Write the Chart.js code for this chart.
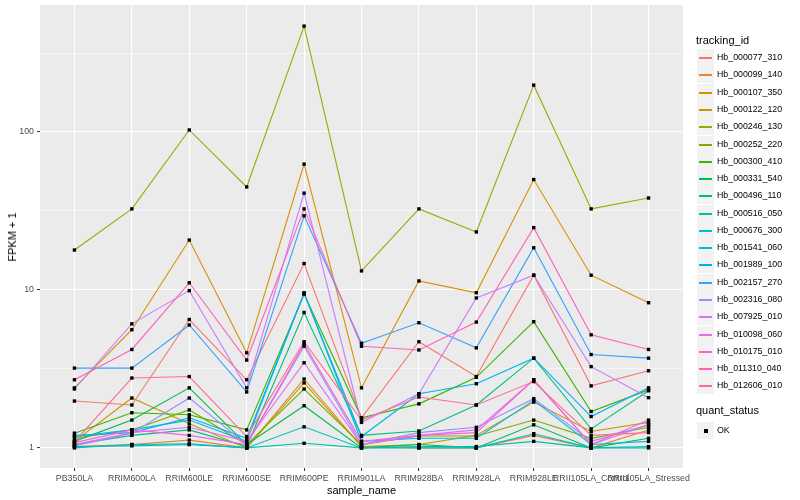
<!DOCTYPE html>
<html>
<head>
<meta charset="utf-8">
<script src="https://cdn.jsdelivr.net/npm/chart.js@4/dist/chart.umd.min.js"></script>
<style>
  html, body { margin: 0; padding: 0; background: #ffffff; }
  #wrap { position: relative; width: 800px; height: 500px; font-family: "Liberation Sans", Arial, Helvetica, sans-serif; }
  #c { position: absolute; left: 0; top: 0; }
  .axt { position: absolute; font-size: 11px; color: #000; white-space: nowrap; }
  #legend { position: absolute; left: 697px; top: 0; font-size: 8.8px; color: #000; }
  .ltitle { position: absolute; font-size: 11px; white-space: nowrap; left: 0; }
  .litem { position: absolute; left: 0; height: 17px; }
  .lkey { position: absolute; left: 0; top: 0; width: 17px; height: 17px; background: #F2F2F2; }
  .lline { position: absolute; left: 2px; top: 8px; width: 13px; height: 2px; }
  .lpt { position: absolute; left: 7px; top: 7px; width: 4px; height: 4px; background: #000; }
  .ltext { position: absolute; left: 20px; top: 3px; white-space: nowrap; }
</style>
</head>
<body>
<div id="wrap">
  <canvas id="c" width="800" height="500"></canvas>
  <div class="axt" id="xtitle" style="left:361.5px; top:484px; transform:translateX(-50%);">sample_name</div>
  <div class="axt" id="ytitle" style="left:12px; top:236.5px; transform:translate(-50%,-50%) rotate(-90deg);">FPKM + 1</div>
  <div id="legend"></div>
</div>
<script>
// ---- data ----
const samples = ["PB350LA", "RRIM600LA", "RRIM600LE", "RRIM600SE", "RRIM600PE", "RRIM901LA",
                 "RRIM928BA", "RRIM928LA", "RRIM928LE", "RRII105LA_Control", "RRII105LA_Stressed"];
const trackingIds = ["Hb_000077_310", "Hb_000099_140", "Hb_000107_350", "Hb_000122_120", "Hb_000246_130",
                     "Hb_000252_220", "Hb_000300_410", "Hb_000331_540", "Hb_000496_110", "Hb_000516_050",
                     "Hb_000676_300", "Hb_001541_060", "Hb_001989_100", "Hb_002157_270", "Hb_002316_080",
                     "Hb_007925_010", "Hb_010098_060", "Hb_010175_010", "Hb_011310_040", "Hb_012606_010"];
const hb_000077_310 = [1.98, 1.87, 6.5, 2.7, 14.7, 1.55, 4.7, 2.83, 12.4, 2.47, 3.08];
const hb_000099_140 = [1.02, 1.05, 1.12, 1.0, 2.73, 1.02, 1.0, 1.0, 1.2, 1.0, 1.3];
const hb_000107_350 = [2.4, 5.6, 20.7, 4.0, 62.6, 2.4, 11.4, 9.6, 50, 12.4, 8.3];
const hb_000122_120 = [1.1, 2.07, 1.42, 1.0, 2.58, 1.02, 1.05, 1.2, 1.95, 1.27, 1.45];
const hb_000246_130 = [17.9, 32.6, 103, 44.9, 468, 13.2, 32.6, 23.3, 198, 32.6, 38.2];
const hb_000252_220 = [1.15, 1.3, 1.74, 1.05, 2.36, 1.05, 1.19, 1.19, 1.5, 1.15, 1.35];
const hb_000300_410 = [1.24, 1.67, 1.62, 1.3, 9.4, 1.55, 1.9, 2.8, 6.3, 1.7, 2.33];
const hb_000331_540 = [1.1, 1.5, 2.4, 1.05, 1.85, 1.0, 1.05, 1.0, 1.4, 1.0, 1.15];
const hb_000496_110 = [1.05, 1.2, 1.3, 1.02, 7.2, 1.2, 1.28, 1.87, 3.7, 1.32, 2.3];
const hb_000516_050 = [1.02, 1.03, 1.05, 1.0, 1.07, 1.0, 1.02, 1.02, 1.1, 1.0, 1.02];
const hb_000676_300 = [1.0, 1.05, 1.06, 1.0, 1.36, 1.0, 1.0, 1.0, 1.23, 1.0, 1.0];
const hb_001541_060 = [1.18, 1.3, 1.5, 1.1, 9.6, 1.1, 1.15, 1.15, 2.0, 1.05, 1.1];
const hb_001989_100 = [1.2, 1.25, 1.55, 1.15, 9.5, 1.18, 2.2, 2.55, 3.7, 1.58, 2.4];
const hb_002157_270 = [3.2, 3.2, 6.0, 2.26, 29.5, 4.6, 6.2, 4.3, 18.5, 3.9, 3.7];
const hb_002316_080 = [1.03, 1.24, 2.07, 1.05, 4.4, 1.05, 1.25, 1.35, 2.05, 1.1, 1.4];
const hb_007925_010 = [2.36, 6.1, 9.9, 2.4, 41, 1.45, 2.2, 8.9, 12.4, 3.27, 2.08];
const hb_010098_060 = [1.05, 1.25, 1.35, 1.1, 3.46, 1.05, 1.2, 1.3, 2.7, 1.05, 1.4];
const hb_010175_010 = [1.08, 1.3, 1.2, 1.05, 4.55, 1.1, 1.2, 1.25, 2.7, 1.05, 1.5];
const hb_011310_040 = [2.7, 4.2, 11.1, 3.6, 32.6, 4.4, 4.17, 6.26, 24.8, 5.2, 4.2];
const hb_012606_010 = [1.09, 2.77, 2.83, 1.18, 4.7, 1.5, 2.1, 1.87, 2.63, 1.2, 1.25];
const yTickValues = [1, 3.1623, 10, 31.623, 100, 316.23];
const yTickLabels = ["1", "", "10", "", "100", ""];
const quantStatus = ["OK"];

// ---- styles ----
const seriesValues = [hb_000077_310, hb_000099_140, hb_000107_350, hb_000122_120, hb_000246_130,
  hb_000252_220, hb_000300_410, hb_000331_540, hb_000496_110, hb_000516_050,
  hb_000676_300, hb_001541_060, hb_001989_100, hb_002157_270, hb_002316_080,
  hb_007925_010, hb_010098_060, hb_010175_010, hb_011310_040, hb_012606_010];
const palette = ["#F8766D", "#EA8331", "#D89000", "#C09B00", "#A3A500", "#7CAE00", "#39B600", "#00BB4E",
  "#00BF7D", "#00C1A3", "#00BFC4", "#00BAE0", "#00B0F6", "#35A2FF", "#9590FF", "#C77CFF",
  "#E76BF3", "#FA62DB", "#FF62BC", "#FF6C91"];

const n = trackingIds.length;
const datasets = trackingIds.map((id, i) => ({
  label: id,
  data: seriesValues[i].map((v, j) => ({ x: j, y: v })),
  borderColor: palette[i],
  borderWidth: 1.1,
  pointRadius: 0,
  fill: false,
  tension: 0,
  order: n - i + 1
}));
const allPoints = [];
seriesValues.forEach(arr => arr.forEach((v, j) => allPoints.push({ x: j, y: v })));
datasets.push({
  label: "points",
  data: allPoints,
  showLine: false,
  pointStyle: "rect",
  pointRadius: 2.4,
  pointBackgroundColor: "#000000",
  pointBorderWidth: 0,
  borderColor: "#000000",
  order: 0
});

const panelBg = {
  id: "panelBg",
  beforeDraw(chart) {
    const { ctx, chartArea: a } = chart;
    ctx.save();
    ctx.fillStyle = "#EBEBEB";
    ctx.fillRect(a.left, a.top, a.right - a.left, a.bottom - a.top);
    ctx.restore();
  }
};

const isMajorY = v => yTickLabels[yTickValues.indexOf(v)] !== "";

new Chart(document.getElementById("c"), {
  type: "line",
  data: { datasets },
  plugins: [panelBg],
  options: {
    responsive: false,
    animation: false,
    events: [],
    layout: { padding: { left: 0, right: 117, top: 5, bottom: 0 } },
    plugins: { legend: { display: false }, tooltip: { enabled: false } },
    scales: {
      x: {
        type: "linear",
        bounds: "data",
        min: -0.6,
        max: 10.6,
        afterBuildTicks(scale) { scale.ticks = samples.map((s, i) => ({ value: i })); },
        afterFit(scale) { scale.height = 32; scale.paddingLeft = 0; scale.paddingRight = 0; },
        border: { display: false },
        grid: { color: "#FFFFFF", lineWidth: 1.1, drawTicks: true, tickLength: 3, tickColor: "#333333", tickWidth: 1 },
        ticks: {
          autoSkip: false, maxRotation: 0, minRotation: 0, padding: 2,
          color: "#4D4D4D",
          font: { family: "'Liberation Sans', Arial, sans-serif", size: 8.8 },
          callback: (v) => samples[v] !== undefined ? samples[v] : ""
        }
      },
      y: {
        type: "logarithmic",
        bounds: "data",
        min: 0.746,
        max: 637,
        afterBuildTicks(scale) { scale.ticks = yTickValues.map(v => ({ value: v })); },
        afterFit(scale) { scale.width = 40; scale.paddingTop = 0; scale.paddingBottom = 0; },
        border: { display: false },
        grid: {
          color: "#FFFFFF",
          lineWidth: ctx => (ctx.tick && isMajorY(ctx.tick.value)) ? 1.1 : 0.55,
          drawTicks: true, tickLength: 3,
          tickColor: ctx => (ctx.tick && isMajorY(ctx.tick.value)) ? "#333333" : "rgba(0,0,0,0)",
          tickWidth: 1
        },
        ticks: {
          padding: 3,
          color: "#4D4D4D",
          font: { family: "'Liberation Sans', Arial, sans-serif", size: 8.8 },
          callback: (v) => { const k = yTickValues.indexOf(v); return k >= 0 ? yTickLabels[k] : ""; }
        }
      }
    }
  }
});

// ---- legend (HTML text) ----
const leg = document.getElementById("legend");
let html = '<div class="ltitle" style="top:34px;left:-1px;">tracking_id</div>';
trackingIds.forEach((id, i) => {
  const top = Math.round(49.1 + i * 17.28);
  html += '<div class="litem" style="top:' + top + 'px;"><div class="lkey"><div class="lline" style="background:' +
    palette[i] + ';"></div></div><div class="ltext">' + id + '</div></div>';
});
html += '<div class="ltitle" style="top:404px;left:-1px;">quant_status</div>';
quantStatus.forEach((s, i) => {
  html += '<div class="litem" style="top:' + Math.round(421.5 + i * 17.28) + 'px;"><div class="lkey"><div class="lpt"></div></div><div class="ltext">' + s + '</div></div>';
});
leg.innerHTML = html;
</script>
</body>
</html>
